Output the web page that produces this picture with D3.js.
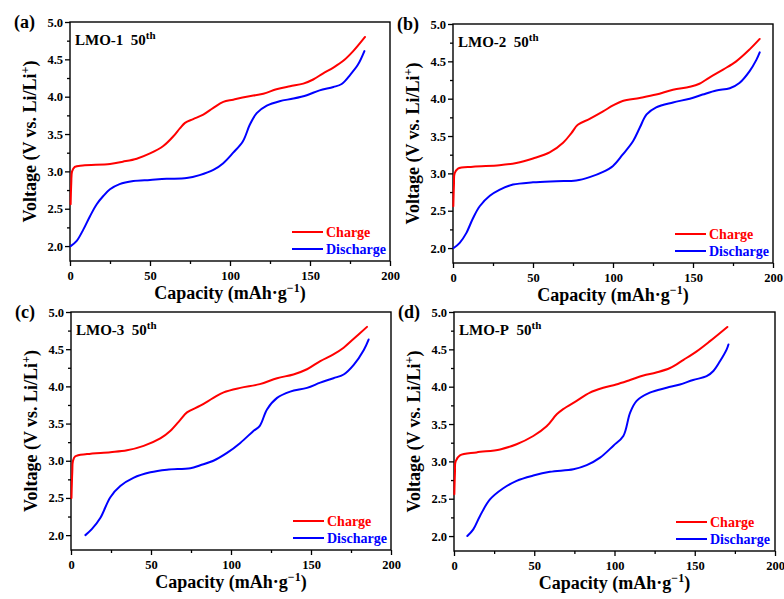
<!DOCTYPE html>
<html>
<head>
<meta charset="utf-8">
<script src="https://cdn.jsdelivr.net/npm/d3@7"></script>
<style>
  html, body { margin: 0; padding: 0; background: #fff; }
  svg { display: block; font-family: "Liberation Serif", "Times New Roman", serif; font-weight: bold; }
</style>
</head>
<body>
<svg id="chart" width="784" height="599"></svg>
<script>
// Axis ticks
const xTicks = [0, 50, 100, 150, 200];
const yTicks = [2.0, 2.5, 3.0, 3.5, 4.0, 4.5, 5.0];
const xMinor = [25, 75, 125, 175];
const yMinor = [2.25, 2.75, 3.25, 3.75, 4.25, 4.75];

// Panel tags and sample names
const panelTags = ["(a)", "(b)", "(c)", "(d)"];
const sampleNames = ["LMO-1", "LMO-2", "LMO-3", "LMO-P"];
const cycleLabel = "50";
const seriesNames = ["Charge", "Discharge"];

// 50th-cycle voltage profiles: [capacity (mAh/g), voltage (V)]
const lmo1Charge = [[0.4,2.56],[0.8,2.85],[1.3,3.0],[3,3.06],[8,3.08],[25,3.10],[33,3.13],[41.7,3.17],[50,3.24],[58.3,3.34],[64.6,3.47],[68.8,3.58],[71.9,3.65],[77,3.70],[83.3,3.76],[89.6,3.85],[95.8,3.93],[102,3.96],[110.4,4.0],[120.8,4.04],[129,4.10],[137.5,4.14],[145.8,4.175],[152,4.23],[158,4.31],[164.6,4.39],[170.8,4.48],[177,4.61],[184.4,4.80]];
const lmo1Discharge = [[0.4,2.0],[4.2,2.07],[8.3,2.22],[12.5,2.40],[16.7,2.56],[20.8,2.67],[25,2.76],[31,2.83],[39.6,2.87],[50,2.885],[60.4,2.90],[72.9,2.91],[81,2.95],[89.6,3.02],[95.8,3.11],[102,3.25],[108,3.40],[112.5,3.63],[116.7,3.78],[123,3.88],[131,3.94],[139.6,3.975],[148,4.02],[156,4.085],[164.6,4.13],[169.8,4.17],[175,4.29],[180,4.43],[184,4.61]];

const lmo2Charge = [[0.2,2.56],[0.6,2.85],[1.0,3.0],[3.1,3.065],[12.5,3.09],[29,3.11],[39.6,3.14],[50,3.20],[60.4,3.28],[68.8,3.41],[74,3.54],[78,3.65],[85.4,3.73],[93.8,3.83],[100,3.91],[106,3.97],[116.7,4.01],[127,4.055],[137.5,4.12],[148,4.16],[154,4.20],[160,4.28],[168.8,4.39],[177,4.50],[185.4,4.66],[191.7,4.80]];
const lmo2Discharge = [[0.4,2.0],[4.2,2.07],[8.3,2.20],[12.5,2.40],[16.7,2.56],[23,2.70],[29,2.78],[37.5,2.85],[50,2.88],[64.6,2.895],[77,2.905],[85.4,2.95],[93.8,3.02],[100,3.10],[106,3.25],[112.5,3.43],[116.7,3.61],[121,3.79],[127,3.885],[137.5,3.95],[148,4.0],[156,4.055],[164.6,4.11],[173,4.14],[179,4.21],[185.4,4.37],[189.6,4.52],[191.7,4.62]];

const lmo3Charge = [[0.3,2.50],[0.8,2.85],[1.25,3.0],[2.7,3.06],[10,3.09],[24.6,3.115],[35,3.14],[45.4,3.20],[55.8,3.30],[62,3.40],[68.3,3.55],[72.5,3.65],[80.8,3.74],[89,3.845],[95.4,3.92],[105.8,3.98],[118,4.03],[128.8,4.11],[139,4.16],[147.5,4.23],[155.8,4.34],[164,4.43],[170.4,4.52],[176.7,4.64],[185,4.80]];
const lmo3Discharge = [[9,2.0],[13,2.08],[18.3,2.23],[24.6,2.51],[30.8,2.66],[39,2.77],[49.6,2.845],[60,2.88],[74.6,2.90],[80.8,2.94],[89,3.0],[97.5,3.105],[105.8,3.24],[114,3.40],[118,3.47],[122.5,3.69],[128.8,3.845],[137,3.93],[147.5,3.98],[155.8,4.05],[164,4.11],[170.4,4.16],[176.7,4.29],[183,4.49],[186,4.63]];

const lmoPCharge = [[0.2,2.56],[0.6,2.85],[1.0,3.0],[3.7,3.08],[14,3.12],[28.7,3.16],[39,3.23],[49.4,3.34],[57.7,3.47],[64,3.63],[68,3.70],[76.4,3.81],[84.7,3.92],[93,3.985],[101,4.03],[109.7,4.09],[118,4.15],[126,4.19],[134.6,4.25],[143,4.36],[151,4.47],[159.5,4.61],[170.3,4.80]];
const lmoPDischarge = [[8.3,2.0],[12,2.09],[16.2,2.27],[22.4,2.49],[30.7,2.64],[39,2.74],[49.4,2.81],[59.8,2.86],[74.4,2.895],[82.7,2.95],[91,3.05],[99.3,3.21],[105.5,3.34],[109.7,3.65],[113.8,3.81],[122,3.92],[132.5,3.985],[140.8,4.03],[149,4.09],[157.4,4.14],[161.6,4.21],[165.7,4.34],[169.9,4.50],[171,4.565]];

const chargeSets = [lmo1Charge, lmo2Charge, lmo3Charge, lmoPCharge];
const dischargeSets = [lmo1Discharge, lmo2Discharge, lmo3Discharge, lmoPDischarge];

// Layout of the four plot frames
const frames = [
  { x: 70,  y: 22,  w: 320, h: 239 },
  { x: 453, y: 24,  w: 320, h: 239 },
  { x: 71,  y: 312, w: 320, h: 238 },
  { x: 454, y: 312, w: 321, h: 239 }
];
const colors = ["#ff0000", "#0000ff"];

const svg = d3.select("#chart");

frames.forEach((f, i) => {
  const g = svg.append("g").attr("transform", `translate(${f.x},${f.y})`);
  const x = d3.scaleLinear().domain([0, 200]).range([0, f.w]);
  const y = d3.scaleLinear().domain([1.8, 5.0]).range([f.h, 0]);

  // major and minor ticks, outward
  g.append("g").attr("transform", `translate(0,${f.h})`)
    .call(d3.axisBottom(x).tickValues(xTicks).tickFormat(d3.format("d")).tickSize(5).tickPadding(5));
  g.append("g").attr("transform", `translate(0,${f.h})`)
    .call(d3.axisBottom(x).tickValues(xMinor).tickFormat("").tickSize(3));
  g.append("g")
    .call(d3.axisLeft(y).tickValues(yTicks).tickFormat(d3.format(".1f")).tickSize(5).tickPadding(2));
  g.append("g")
    .call(d3.axisLeft(y).tickValues(yMinor).tickFormat("").tickSize(3));

  g.selectAll(".tick line").attr("stroke", "#000").attr("stroke-width", 1.3);
  g.selectAll(".domain").remove();
  g.selectAll(".tick text")
    .attr("fill", "#000")
    .style("font-family", '"Liberation Serif", "Times New Roman", serif')
    .style("font-weight", "bold")
    .style("font-size", "12.5px");

  // frame
  g.append("rect").attr("x", 0).attr("y", 0).attr("width", f.w).attr("height", f.h)
    .attr("fill", "none").attr("stroke", "#000").attr("stroke-width", 1.4);

  // curves
  const line = d3.line().x(d => x(d[0])).y(d => y(d[1])).curve(d3.curveCatmullRom.alpha(0.5));
  [chargeSets[i], dischargeSets[i]].forEach((data, k) => {
    g.append("path").datum(data).attr("d", line)
      .attr("fill", "none").attr("stroke", colors[k]).attr("stroke-width", 2)
      .attr("stroke-linejoin", "round").attr("stroke-linecap", "round");
  });

  // sample label with cycle number
  const lab = g.append("text").attr("x", 5).attr("y", 23).style("font-size", "15px").attr("fill", "#000");
  lab.append("tspan").text(sampleNames[i] + "\u00a0\u00a0" + cycleLabel);
  lab.append("tspan").attr("dy", -6).style("font-size", "11px").text("th");

  // legend
  seriesNames.forEach((name, k) => {
    const ly = f.h - 29 + k * 17;
    g.append("line").attr("x1", 222).attr("x2", 253).attr("y1", ly).attr("y2", ly)
      .attr("stroke", colors[k]).attr("stroke-width", 2);
    g.append("text").attr("x", 256).attr("y", ly).attr("dy", "0.35em")
      .style("font-size", "14px").attr("fill", colors[k]).text(name);
  });

  // panel tag
  svg.append("text").attr("x", f.x - 56).attr("y", f.y + 6)
    .style("font-size", "18px").attr("fill", "#000").text(panelTags[i]);

  // axis titles
  const xt = g.append("text").attr("x", f.w / 2).attr("y", f.h + 38)
    .attr("text-anchor", "middle").style("font-size", "18px").attr("fill", "#000");
  xt.append("tspan").text("Capacity (mAh\u00b7g");
  xt.append("tspan").attr("dy", -7).style("font-size", "12px").text("\u22121");
  xt.append("tspan").attr("dy", 7).text(")");

  const yt = g.append("text")
    .attr("transform", `translate(-34,${f.h / 2}) rotate(-90)`)
    .attr("text-anchor", "middle").style("font-size", "18px").attr("fill", "#000");
  yt.append("tspan").text("Voltage (V vs. Li/Li");
  yt.append("tspan").attr("dy", -7).style("font-size", "12px").text("+");
  yt.append("tspan").attr("dy", 7).text(")");
});
</script>
</body>
</html>
